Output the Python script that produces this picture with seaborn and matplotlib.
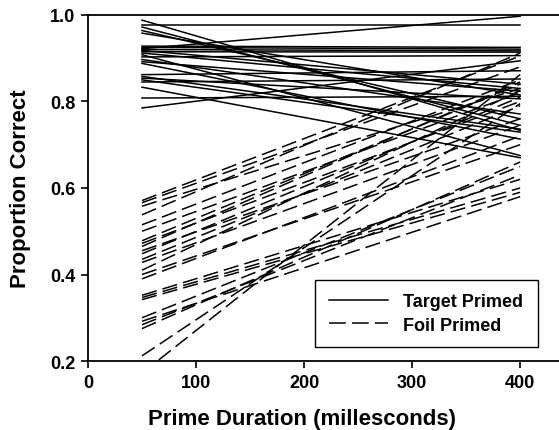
import pandas as pd
import seaborn as sns
import matplotlib.pyplot as plt
from matplotlib.lines import Line2D

# Prime durations (ms) at which each participant was measured
durations = [50, 400]

# Target primed: proportion correct at 50 ms and 400 ms, one value per participant
target_50 = [0.988, 0.977, 0.972, 0.964, 0.958, 0.928, 0.925, 0.922, 0.920, 0.918,
             0.915, 0.912, 0.908, 0.903, 0.897, 0.892, 0.888, 0.862, 0.858, 0.854,
             0.850, 0.845, 0.833, 0.808, 0.785]
target_400 = [0.733, 0.977, 0.745, 0.760, 0.815, 0.925, 0.921, 0.997, 0.917, 0.840,
              0.914, 0.830, 0.675, 0.906, 0.771, 0.824, 0.713, 0.871, 0.736, 0.806,
              0.729, 0.852, 0.670, 0.812, 0.894]

# Foil primed
foil_50 = [0.571, 0.566, 0.558, 0.538, 0.515, 0.500, 0.478, 0.472, 0.465, 0.455,
           0.448, 0.435, 0.428, 0.410, 0.400, 0.390, 0.352, 0.347, 0.342, 0.300,
           0.292, 0.284, 0.275, 0.212, 0.172]
foil_400 = [0.905, 0.880, 0.830, 0.912, 0.850, 0.820, 0.840, 0.800, 0.845, 0.760,
            0.810, 0.790, 0.745, 0.825, 0.700, 0.720, 0.620, 0.600, 0.590, 0.650,
            0.580, 0.630, 0.660, 0.795, 0.862]

# Build long-form table
rows = []
for i in range(len(target_50)):
    for d, v in zip(durations, [target_50[i], target_400[i]]):
        rows.append({'subject': i, 'condition': 'Target Primed', 'duration': d, 'correct': v})
    for d, v in zip(durations, [foil_50[i], foil_400[i]]):
        rows.append({'subject': i, 'condition': 'Foil Primed', 'duration': d, 'correct': v})
df = pd.DataFrame(rows)

plt.rcParams['font.family'] = ['Liberation Sans', 'DejaVu Sans']
plt.rcParams['font.weight'] = 'bold'

fig = plt.figure(figsize=(5.59, 4.31), dpi=100)
ax = fig.add_axes([0.1574, 0.160, 0.8426, 0.803])

dash = (10, 4)
sns.lineplot(data=df, x='duration', y='correct', style='condition', units='subject',
             estimator=None, color='black', linewidth=1.1,
             dashes={'Target Primed': '', 'Foil Primed': dash},
             legend=False, ax=ax)

ax.set_xlim(0, 436)
ax.set_ylim(0.2, 1.0)
ax.set_xticks([0, 100, 200, 300, 400])
ax.set_yticks([0.2, 0.4, 0.6, 0.8, 1.0])
ax.set_yticklabels(['0.2', '0.4', '0.6', '0.8', '1.0'])
ax.tick_params(direction='out', length=5, width=1.2, labelsize=13, pad=4)
for lab in ax.get_xticklabels() + ax.get_yticklabels():
    lab.set_fontweight('bold')
ax.spines['right'].set_visible(False)
for s in ['left', 'bottom', 'top']:
    ax.spines[s].set_linewidth(1.3)

ax.set_xlabel('Prime Duration (millesconds)', fontsize=16, fontweight='bold', labelpad=9)
ax.xaxis.set_label_coords(0.454, -0.135)
ax.set_ylabel('Proportion Correct', fontsize=16, fontweight='bold', labelpad=14)

handles = [Line2D([], [], color='black', lw=1.1),
           Line2D([], [], color='black', lw=1.1, dashes=(11, 4))]
leg = ax.legend(handles, ['Target Primed', 'Foil Primed'], loc='lower left',
                bbox_to_anchor=(0.482, 0.040, 0.473, 0.194), mode='expand',
                borderaxespad=0, fancybox=False, edgecolor='black', framealpha=1,
                handlelength=3.3, handletextpad=0.8, borderpad=0.75, labelspacing=0.35,
                prop={'weight': 'bold', 'size': 13})
leg.get_frame().set_linewidth(1.0)

fig.savefig('out.png', dpi=100)
